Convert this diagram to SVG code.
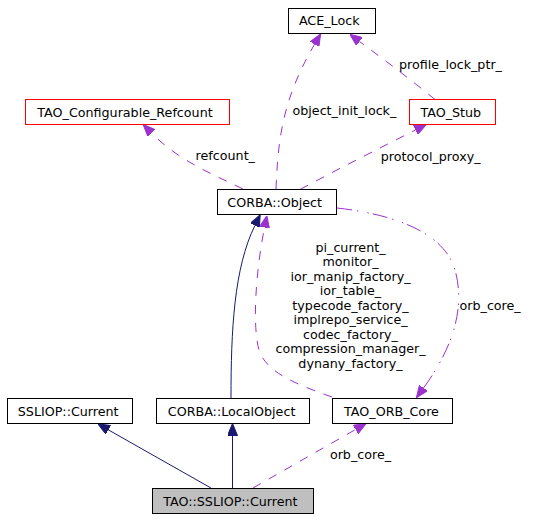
<svg xmlns="http://www.w3.org/2000/svg" width="533" height="520" viewBox="0 0 533 520">
<style>
text{font-family:"DejaVu Sans","Liberation Sans",sans-serif;font-size:12.7px;fill:#000}
.n rect{fill:#fff;stroke:#000;stroke-width:1}
.n.red rect{stroke:#ff0000}
.n.cur rect{fill:#bfbfbf}
.n text{text-anchor:middle}
.inh{fill:none;stroke:#191970;stroke-width:1;marker-end:url(#an)}
.use{fill:none;stroke:#9a32cd;stroke-width:1;stroke-dasharray:9,9;marker-end:url(#ap)}
.dd{fill:none;stroke:#9a32cd;stroke-width:1;stroke-dasharray:15,5,1.5,9,1.5,4;marker-end:url(#ap)}
.lbl text{text-anchor:start}
.lbl text.mid{text-anchor:middle}
</style>
<defs>
<marker id="an" viewBox="0 0 12 10" refX="0" refY="5" markerWidth="12" markerHeight="10" markerUnits="userSpaceOnUse" orient="auto">
<path d="M0,0 L12,5 L0,10 z" fill="#191970" stroke="#191970" stroke-width="1"/>
</marker>
<marker id="ap" viewBox="0 0 12 10" refX="0" refY="5" markerWidth="12" markerHeight="10" markerUnits="userSpaceOnUse" orient="auto">
<path d="M0,0 L12,5 L0,10 z" fill="#9a32cd" stroke="#9a32cd" stroke-width="1"/>
</marker>
</defs>
<g id="edges">
<path class="inh" d="M211,488 L108.4,429.9"/>
<path class="inh" d="M232.5,488 L232.5,435.5"/>
<path class="use" d="M253,488 L355.6,429.5"/>
<path class="inh" d="M231,398 C231,330 234,268 254.9,225.5"/>
<path class="use" d="M332,397 C295,384 266,372 259,350 C252,325 256,270 264.5,227.5"/>
<path class="dd" d="M337,208 C400,215 445,235 455,270 C465,305 455,345 423.5,388"/>
<path class="use" d="M243,189 C210,173 178,160 151.5,133"/>
<path class="use" d="M276,189 C278,140 282,100 314.6,44.2"/>
<path class="use" d="M435,99.5 C415,83 390,64 359.5,41.5"/>
<path class="use" d="M300,189.5 C340,168 380,148 415.5,130"/>
<g class="lbl">
<text x="360.5" y="459" class="mid">orb_core_</text>
<text x="459.5" y="309.5">orb_core_</text>
<text x="225.3" y="160" class="mid">refcount_</text>
<text x="292.5" y="115">object_init_lock_</text>
<text x="399" y="69">profile_lock_ptr_</text>
<text x="380.7" y="160.5">protocol_proxy_</text>
<text x="350.5" y="251.5" class="mid">pi_current_</text>
<text x="350.5" y="266" class="mid">monitor_</text>
<text x="350.5" y="280.5" class="mid">ior_manip_factory_</text>
<text x="350.5" y="295" class="mid">ior_table_</text>
<text x="350.5" y="309.5" class="mid">typecode_factory_</text>
<text x="350.5" y="324" class="mid">implrepo_service_</text>
<text x="350.5" y="338.5" class="mid">codec_factory_</text>
<text x="350.5" y="353" class="mid">compression_manager_</text>
<text x="350.5" y="367.5" class="mid">dynany_factory_</text>
</g>
</g>
<g id="ACE_Lock" class="n"><rect x="288.5" y="8.5" width="87" height="25"/><text x="329.2" y="25.3">ACE_Lock</text></g>
<g id="TAO_Configurable_Refcount" class="n red"><rect x="25.5" y="99.5" width="204" height="25"/><text x="125" y="116.5">TAO_Configurable_Refcount</text></g>
<g id="TAO_Stub" class="n red"><rect x="409.5" y="99.5" width="86" height="25"/><text x="450.8" y="116.5">TAO_Stub</text></g>
<g id="CORBA_Object" class="n"><rect x="217.5" y="189.5" width="119" height="25"/><text x="274.7" y="206.6">CORBA::Object</text></g>
<g id="SSLIOP_Current" class="n"><rect x="7.5" y="398.5" width="125" height="25"/><text x="68.2" y="415.6">SSLIOP::Current</text></g>
<g id="CORBA_LocalObject" class="n"><rect x="156.5" y="398.5" width="153" height="25"/><text x="231.6" y="415.6">CORBA::LocalObject</text></g>
<g id="TAO_ORB_Core" class="n"><rect x="332.5" y="398.5" width="120" height="25"/><text x="391.5" y="415.6">TAO_ORB_Core</text></g>
<g id="TAO_SSLIOP_Current" class="n cur"><rect x="152.5" y="488.5" width="161" height="25"/><text x="230.4" y="505.6">TAO::SSLIOP::Current</text></g>
</svg>
